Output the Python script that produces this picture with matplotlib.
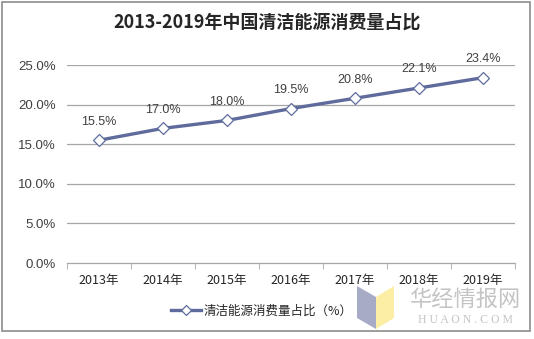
import matplotlib
matplotlib.use("Agg")
import matplotlib.pyplot as plt
from matplotlib.patches import Rectangle, Polygon
from matplotlib.lines import Line2D

plt.rcParams['font.family'] = ['Noto Sans CJK SC', 'DejaVu Sans']

title = "2013-2019年中国清洁能源消费量占比"
years = ["2013年", "2014年", "2015年", "2016年", "2017年", "2018年", "2019年"]
share = [15.5, 17.0, 18.0, 19.5, 20.8, 22.1, 23.4]
series_name = "清洁能源消费量占比（%）"
y_ticks = [0, 5, 10, 15, 20, 25]

W, H = 534, 339
fig = plt.figure(figsize=(W / 100, H / 100), dpi=100)
fig.patch.set_facecolor("white")

# outer frame
fig.add_artist(Rectangle((2 / W, 1 - 331 / H), 528 / W, 329 / H,
                         transform=fig.transFigure, fill=False,
                         edgecolor="#8C8C8C", linewidth=1.2))

ax = fig.add_axes([67 / W, 1 - 263 / H, 448 / W, 198 / H])
x = list(range(len(years)))
ax.set_xlim(-0.5, len(years) - 0.5)
ax.set_ylim(0, 25)

for v in y_ticks[1:]:
    ax.axhline(v, color="#A6A6A6", linewidth=0.9, zorder=0)
for s in ["top", "right", "left"]:
    ax.spines[s].set_visible(False)
ax.spines["bottom"].set_color("#A6A6A6")
ax.spines["bottom"].set_linewidth(0.9)

line_color = "#5E6B9C"
ax.plot(x, share, color=line_color, linewidth=2.4, zorder=2,
        marker="D", markersize=6.5, markerfacecolor="white",
        markeredgecolor=line_color, markeredgewidth=0.9)

for xi, v in zip(x, share):
    ax.annotate(f"{v:.1f}%", (xi, v), xytext=(0, 9), textcoords="offset points",
                ha="center", va="bottom", fontsize=9, color="#404040",
                family=["Liberation Sans", "DejaVu Sans"])

ax.set_yticks(y_ticks)
ax.set_yticklabels([f"{v:.1f}%" for v in y_ticks], fontsize=9.5, color="#404040",
                   family=["Liberation Sans", "DejaVu Sans"])
ax.tick_params(axis="y", length=0, pad=8)

ax.set_xticks(x)
ax.set_xticklabels(years, fontsize=9, color="#262626")
ax.tick_params(axis="x", which="major", length=0, pad=8)
ax.set_xticks([i - 0.5 for i in range(len(years) + 1)], minor=True)
ax.tick_params(axis="x", which="minor", length=4, color="#A6A6A6", direction="out")

fig.text(0.5, 1 - 23 / H, title, ha="center", va="center", fontsize=13,
         fontweight="semibold", color="#262626")

# legend
leg = fig.legend(handles=[Line2D([], [], color=line_color, linewidth=2.4, marker="D",
                                 markersize=5, markerfacecolor="white",
                                 markeredgecolor=line_color, markeredgewidth=0.9)],
                 labels=[series_name], loc="center", bbox_to_anchor=(262 / W, 1 - 311 / H),
                 frameon=False, fontsize=9, handlelength=2.4, handletextpad=0.2)
for t in leg.get_texts():
    t.set_color("#262626")

# site mark
fig.add_artist(Polygon([(357 / W, 1 - 286 / H), (376 / W, 1 - 297 / H),
                        (376 / W, 1 - 329 / H), (357 / W, 1 - 318 / H)],
                       closed=True, transform=fig.transFigure,
                       facecolor="#A7ABC6", edgecolor="none"))
fig.add_artist(Polygon([(376 / W, 1 - 297 / H), (394 / W, 1 - 286 / H),
                        (394 / W, 1 - 318 / H), (376 / W, 1 - 329 / H)],
                       closed=True, transform=fig.transFigure,
                       facecolor="#FCEFA5", edgecolor="none"))
fig.text(465 / W, 1 - 299 / H, "华经情报网", ha="center", va="center", fontsize=16,
         color="#C4C4C4", fontweight="medium")
fig.text(465 / W, 1 - 320 / H, "H U A O N . C O M", ha="center", va="center",
         fontsize=8.5, color="#C4C4C4", family=["Liberation Serif", "DejaVu Serif"])

fig.savefig("out.png", dpi=100)
